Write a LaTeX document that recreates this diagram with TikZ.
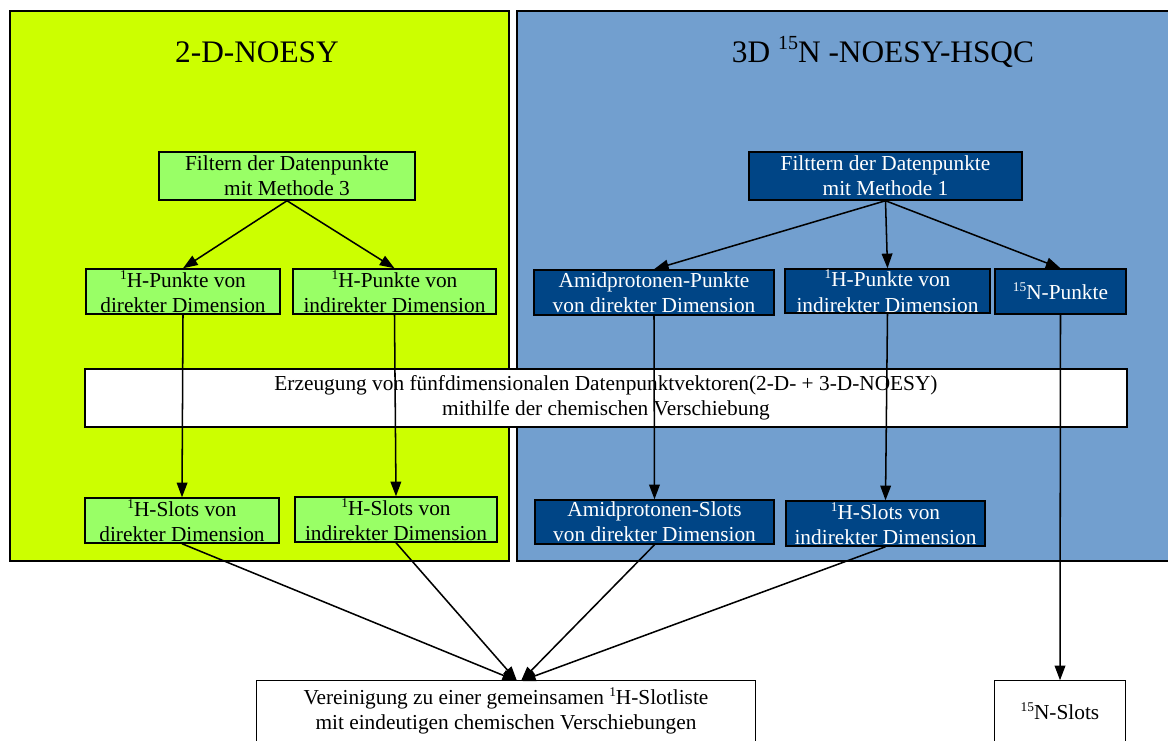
\documentclass[tikz,border=0pt]{standalone}
\usepackage{fontspec}
\setmainfont{Liberation Serif}
\usetikzlibrary{arrows.meta}
\definecolor{limebg}{RGB}{204,255,0}
\definecolor{bluebg}{RGB}{114,159,207}
\definecolor{nodegreen}{RGB}{153,255,102}
\definecolor{nodeblue}{RGB}{0,69,134}
\newcommand{\sups}[1]{\raisebox{0.38em}{\fontsize{10}{10}\selectfont #1}}
\tikzset{
  cluster/.style={draw=black, line width=1.3pt},
  basebox/.style={draw=black, line width=1.1pt, align=center, inner sep=0pt, font=\fontsize{16}{19}\selectfont},
  greenbox/.style={basebox, fill=nodegreen},
  bluebox/.style={basebox, fill=nodeblue, text=white},
  whitebox/.style={basebox, fill=white},
  openbox/.style={basebox, draw=none, fill=white},
  title/.style={font=\fontsize{23.5}{28}\selectfont},
  edge/.style={line width=1.15pt, -{Triangle[length=11pt,width=8pt]}}
}
\begin{document}
\begin{tikzpicture}[x=0.75pt,y=-0.75pt]
\useasboundingbox (0,0) rectangle (1168,740);
\clip (0,0) rectangle (1168,740);
\fill[white] (0,0) rectangle (1168,740);
% clusters
\draw[cluster, fill=limebg] (10,11) rectangle (509,561);
\draw[cluster, fill=bluebg] (517,11) rectangle (1185,561);
\node[title] (t1) at (257,52) {2-D-NOESY};
\node[title] (t2) at (883,52) {3D \raisebox{0.4em}{\fontsize{15}{15}\selectfont 15}N -NOESY-HSQC};
% nodes
\node[greenbox, minimum width=192pt, minimum height=36pt] (F3) at (287,176) {Filtern der Datenpunkte\\mit Methode 3};
\node[bluebox, minimum width=204.75pt, minimum height=36pt] (F1) at (885.5,176) {Filttern der Datenpunkte\\mit Methode 1};
\node[greenbox, minimum width=145.5pt, minimum height=33.75pt] (P1d) at (183,291.5) {\sups{1}H-Punkte von\\direkter Dimension};
\node[greenbox, minimum width=152.25pt, minimum height=33.75pt] (P1i) at (394.5,291.5) {\sups{1}H-Punkte von\\indirekter Dimension};
\node[bluebox, minimum width=180pt, minimum height=33.75pt] (PA) at (654,292.5) {Amidprotonen-Punkte\\von direkter Dimension};
\node[bluebox, minimum width=153.75pt, minimum height=33pt] (PH) at (887.5,291) {\sups{1}H-Punkte von\\indirekter Dimension};
\node[bluebox, minimum width=98.25pt, minimum height=33.75pt] (PN) at (1060.5,291.5) {\sups{15}N-Punkte};
\node[whitebox, minimum width=781.5pt, minimum height=43.5pt] (W) at (606,398) {Erzeugung von fünfdimensionalen Datenpunktvektoren(2-D- + 3-D-NOESY)\\mithilfe der chemischen Verschiebung};
\node[greenbox, minimum width=145.5pt, minimum height=33.75pt] (S1d) at (182,520.5) {\sups{1}H-Slots von\\direkter Dimension};
\node[greenbox, minimum width=151.5pt, minimum height=33.75pt] (S1i) at (396,519.5) {\sups{1}H-Slots von\\indirekter Dimension};
\node[bluebox, minimum width=179.25pt, minimum height=33pt] (SA) at (654.5,522) {Amidprotonen-Slots\\von direkter Dimension};
\node[bluebox, minimum width=149.25pt, minimum height=33.75pt] (SH) at (885.5,523.5) {\sups{1}H-Slots von\\indirekter Dimension};
\node[openbox, minimum width=373.5pt, minimum height=45pt] (V) at (506,711) {Vereinigung zu einer gemeinsamen \sups{1}H-Slotliste\\mit eindeutigen chemischen Verschiebungen};
\node[openbox, minimum width=97.5pt, minimum height=45pt] (NS) at (1060,711) {\sups{15}N-Slots};
\draw[line width=1.1pt] ([yshift=-10pt]V.south west) -- (V.north west) -- (V.north east) -- ([yshift=-10pt]V.south east);
\draw[line width=1.1pt] ([yshift=-10pt]NS.south west) -- (NS.north west) -- (NS.north east) -- ([yshift=-10pt]NS.south east);
\coordinate (vl) at (517,681);
\coordinate (vr) at (521,681);
% edges
\draw[edge] (F3.south) -- (P1d.north);
\draw[edge] (F3.south) -- (P1i.north);
\draw[edge] (F1.south) -- (PA.north);
\draw[edge] (F1.south) -- (PH.north);
\draw[edge] (F1.south) -- (PN.north);
\draw[edge] (P1d.south) -- (S1d.north);
\draw[edge] (P1i.south) -- (S1i.north);
\draw[edge] (PA.south) -- (SA.north);
\draw[edge] (PH.south) -- (SH.north);
\draw[edge] (PN.south) -- (NS.north);
\draw[edge] (S1d.south) -- (vl);
\draw[edge] (S1i.south) -- (vl);
\draw[edge] (SA.south) -- (vr);
\draw[edge] (SH.south) -- (vr);
\end{tikzpicture}
\end{document}
